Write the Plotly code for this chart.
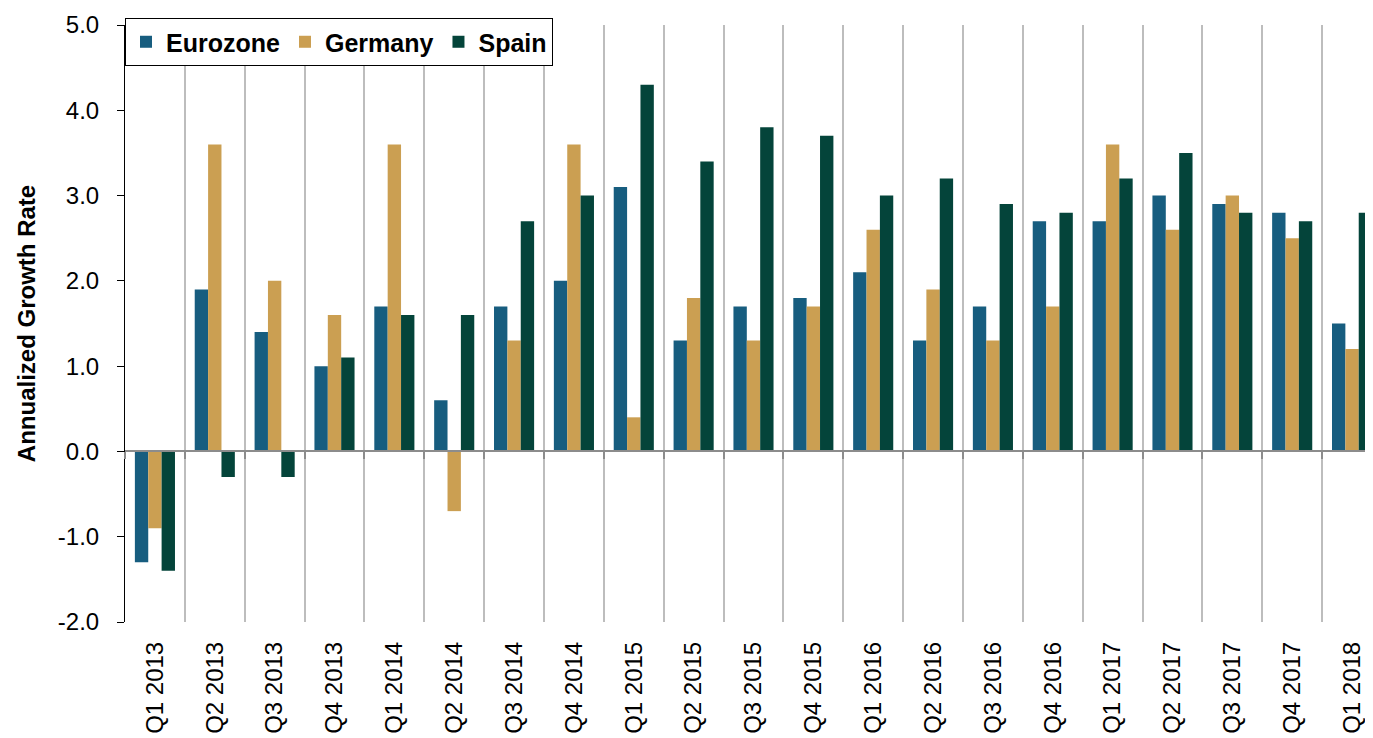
import plotly.graph_objects as go

categories = ["Q1 2013", "Q2 2013", "Q3 2013", "Q4 2013", "Q1 2014", "Q2 2014", "Q3 2014",
              "Q4 2014", "Q1 2015", "Q2 2015", "Q3 2015", "Q4 2015", "Q1 2016", "Q2 2016",
              "Q3 2016", "Q4 2016", "Q1 2017", "Q2 2017", "Q3 2017", "Q4 2017", "Q1 2018"]
eurozone = [-1.3, 1.9, 1.4, 1.0, 1.7, 0.6, 1.7, 2.0, 3.1, 1.3, 1.7, 1.8, 2.1, 1.3, 1.7, 2.7, 2.7, 3.0, 2.9, 2.8, 1.5]
germany = [-0.9, 3.6, 2.0, 1.6, 3.6, -0.7, 1.3, 3.6, 0.4, 1.8, 1.3, 1.7, 2.6, 1.9, 1.3, 1.7, 3.6, 2.6, 3.0, 2.5, 1.2]
spain = [-1.4, -0.3, -0.3, 1.1, 1.6, 1.6, 2.7, 3.0, 4.3, 3.4, 3.8, 3.7, 3.0, 3.2, 2.9, 2.8, 3.2, 3.5, 2.8, 2.7, 2.8]
y_ticks = [-2, -1, 0, 1, 2, 3, 4, 5]
y_tick_labels = ["-2.0", "-1.0", "0.0", "1.0", "2.0", "3.0", "4.0", "5.0"]

series = [("Eurozone", eurozone, "#175d7f"), ("Germany", germany, "#cb9f52"), ("Spain", spain, "#04443a")]

FONT = "Arial, 'Liberation Sans', sans-serif"
FS = 24
idx = list(range(len(categories)))
bounds = [i + 0.5 for i in range(-1, len(categories))]

fig = go.Figure()
for name, vals, col in series:
    fig.add_trace(go.Bar(x=idx, y=vals, name=name, marker=dict(color=col, line=dict(width=0))))
# invisible trace to create overlay axis at zero line
fig.add_trace(go.Scatter(x=[idx[0]], y=[None], xaxis="x2", showlegend=False, hoverinfo="skip"))

fig.update_layout(
    width=1373, height=738,
    margin=dict(l=117, r=8, t=17, b=124, autoexpand=False),
    paper_bgcolor="white", plot_bgcolor="white",
    barmode="group", bargap=0.33, bargroupgap=0,
    font=dict(family=FONT, size=FS, color="black"),
    legend=dict(
        orientation="h", x=0, xanchor="left", y=1.0117, yanchor="top",
        bgcolor="white", bordercolor="black", borderwidth=1,
        font=dict(family=FONT, size=25, color="black", weight="bold"),
        itemwidth=30, traceorder="normal",
    ),
    xaxis=dict(
        range=[-0.5, 20.35], automargin=False,
        tickmode="array", tickvals=idx, ticktext=categories, tickangle=-90,
        ticks="", showgrid=False, showline=False, zeroline=False,
        tickfont=dict(size=FS), ticklabelstandoff=14,
        minor=dict(tickmode="array", tickvals=bounds, showgrid=True, gridcolor="#bdbdbd", gridwidth=1.5, ticks=""),
    ),
    xaxis2=dict(
        overlaying="x", matches="x", anchor="free", position=2/7,
        tickmode="array", tickvals=bounds, ticks="outside", ticklen=7, tickcolor="#8c8c8c", tickwidth=2,
        showticklabels=False, showgrid=False, showline=True, linecolor="#8c8c8c", linewidth=2, zeroline=False,
    ),
    yaxis=dict(
        range=[-2, 5], automargin=False, tickmode="array", tickvals=y_ticks, ticktext=y_tick_labels,
        ticks="outside", ticklen=7, tickcolor="black", showline=True, linecolor="black", linewidth=1,
        showgrid=False, zeroline=False, tickfont=dict(size=FS), ticklabelstandoff=13,
        title=dict(text="<b>Annualized Growth Rate</b>", font=dict(size=FS), standoff=15),
    ),
)

fig.write_html("out.html")
